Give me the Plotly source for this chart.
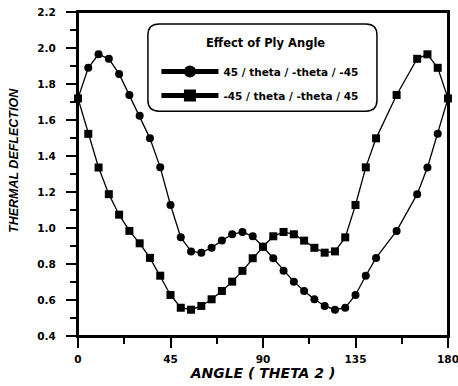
import plotly.graph_objects as go

# Thermal deflection versus ply angle theta 2 for two stacking sequences
angle_a = [0, 5, 10, 15, 20, 25, 30, 35, 40, 45, 50, 55, 60, 65, 70, 75, 80, 85, 90,
           95, 100, 105, 110, 115, 120, 125, 130, 135, 140, 145, 155, 165, 170, 175, 180]
defl_a = [1.72, 1.89, 1.965, 1.94, 1.856, 1.739, 1.624, 1.498, 1.337, 1.128, 0.948, 0.870,
          0.863, 0.890, 0.930, 0.965, 0.978, 0.954, 0.896, 0.832, 0.762, 0.702, 0.650,
          0.604, 0.567, 0.546, 0.557, 0.628, 0.735, 0.834, 0.984, 1.188, 1.336, 1.523, 1.72]

angle_b = [0, 5, 10, 15, 20, 25, 30, 35, 40, 45, 50, 55, 60, 65, 70, 75, 80, 85, 90,
           95, 100, 105, 110, 115, 120, 125, 130, 135, 140, 145, 155, 165, 170, 175, 180]
defl_b = [1.72, 1.523, 1.336, 1.188, 1.074, 0.984, 0.915, 0.834, 0.735, 0.628, 0.557, 0.546,
          0.567, 0.604, 0.650, 0.702, 0.762, 0.832, 0.896, 0.954, 0.978, 0.965, 0.930,
          0.890, 0.863, 0.870, 0.948, 1.128, 1.337, 1.498, 1.739, 1.94, 1.965, 1.89, 1.72]

name_a = "45 / theta / -theta / -45"
name_b = "-45 / theta / -theta / 45"
legend_title = "Effect of Ply Angle"

x_ticks = [0, 45, 90, 135, 180]
y_ticks = [0.4, 0.6, 0.8, 1.0, 1.2, 1.4, 1.6, 1.8, 2.0, 2.2]

fig = go.Figure()
fig.add_trace(go.Scatter(
    x=angle_a, y=defl_a, name=name_a, mode="lines+markers", legendgroup="a",
    line=dict(color="black", width=1.3),
    marker=dict(symbol="circle", size=8, color="black"), cliponaxis=False,
))
fig.add_trace(go.Scatter(
    x=angle_b, y=defl_b, name=name_b, mode="lines+markers", legendgroup="b",
    line=dict(color="black", width=1.3),
    marker=dict(symbol="square", size=8, color="black"), cliponaxis=False,
))

tick_font = dict(family="DejaVu Sans", size=10.5, color="black", weight="bold")

fig.update_xaxes(
    range=[0, 180], tickvals=x_ticks, ticktext=[str(v) for v in x_ticks],
    ticks="outside", ticklen=10, tickwidth=1.5, tickcolor="black",
    minor=dict(dtick=22.5, tick0=0, ticks="outside", ticklen=6, tickwidth=1.5, tickcolor="black"),
    showline=True, linecolor="black", linewidth=2, mirror=True, automargin=False,
    ticklabeloverflow="allow",
    showgrid=False, zeroline=False, tickfont=tick_font, ticklabelstandoff=2,
    title=dict(text="ANGLE ( THETA 2 )", standoff=4,
               font=dict(family="DejaVu Sans", size=14, color="black",
                         weight="bold", style="italic")),
)
fig.update_yaxes(
    range=[0.4, 2.2], tickvals=y_ticks, ticktext=[f"{v:.1f}" for v in y_ticks],
    ticks="outside", ticklen=10, tickwidth=1.5, tickcolor="black",
    minor=dict(dtick=0.1, tick0=0.4, ticks="outside", ticklen=6, tickwidth=1.5, tickcolor="black"),
    showline=True, linecolor="black", linewidth=2, mirror=True, automargin=False,
    ticklabeloverflow="allow",
    showgrid=False, zeroline=False, tickfont=tick_font, ticklabelstandoff=8,
)

# plot frame drawn as one closed outline with tiny corner curves
e = 0.0005
fig.add_shape(
    type="path", xref="paper", yref="paper",
    path=(f"M {e},1 L {1 - e},1 Q 1,1 1,{1 - e} L 1,{e} Q 1,0 {1 - e},0 "
          f"L {e},0 Q 0,0 0,{e} L 0,{1 - e} Q 0,1 {e},1 Z"),
    line=dict(color="black", width=2), layer="above",
)

# rounded frame around the legend
x0, x1, y0, y1, r = 0.189, 0.808, 0.694, 0.963, 0.03
ry = r * 370 / 324
fig.add_shape(
    type="path", xref="paper", yref="paper",
    path=(f"M {x0 + r},{y1} L {x1 - r},{y1} Q {x1},{y1} {x1},{y1 - ry} "
          f"L {x1},{y0 + ry} Q {x1},{y0} {x1 - r},{y0} L {x0 + r},{y0} "
          f"Q {x0},{y0} {x0},{y0 + ry} L {x0},{y1 - ry} Q {x0},{y1} {x0 + r},{y1} Z"),
    line=dict(color="black", width=1.5), fillcolor="white", layer="below",
)

fig.add_annotation(
    text=legend_title, xref="paper", yref="paper", x=0.508, y=0.904,
    showarrow=False, xanchor="center", yanchor="middle",
    font=dict(family="DejaVu Sans", size=11.5, color="black", weight="bold"),
)
fig.add_annotation(
    text="THERMAL DEFLECTION", xref="paper", yref="paper",
    x=(14 - 78) / 370, y=(336 - 161) / 324, textangle=-90,
    showarrow=False, xanchor="center", yanchor="middle",
    font=dict(family="Liberation Sans", size=12.5, color="black",
              weight="bold", style="italic"),
)

fig.update_layout(
    width=458, height=386,
    margin=dict(l=78, r=10, t=12, b=50, autoexpand=False),
    paper_bgcolor="white", plot_bgcolor="white",
    showlegend=True,
    legend=dict(
        x=0.212, y=0.861, xanchor="left", yanchor="top",
        bgcolor="rgba(0,0,0,0)", borderwidth=0,
        itemsizing="constant", itemwidth=57,
        traceorder="grouped", tracegroupgap=5,
        font=dict(family="DejaVu Sans", size=10.5, color="black", weight="bold"),
    ),
)

fig.write_html("out.html")
